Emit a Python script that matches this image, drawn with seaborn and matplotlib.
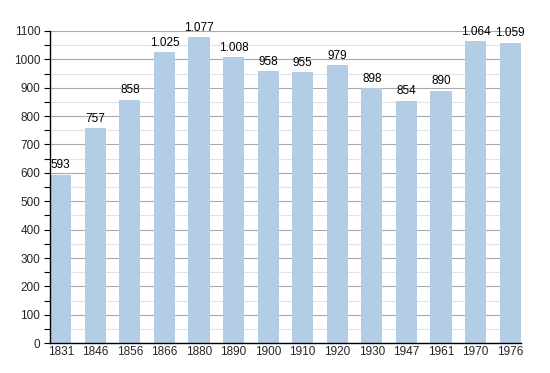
import matplotlib
matplotlib.use('Agg')
import matplotlib.pyplot as plt
import seaborn as sns
import pandas as pd
from matplotlib.ticker import MultipleLocator

years = ['1831', '1846', '1856', '1866', '1880', '1890', '1900', '1910',
         '1920', '1930', '1947', '1961', '1970', '1976']
population = [593, 757, 858, 1025, 1077, 1008, 958, 955, 979, 898, 854, 890, 1064, 1059]

df = pd.DataFrame({'year': years, 'population': population})

sns.set_theme(style='white')
plt.rcParams['font.family'] = ['Liberation Sans', 'DejaVu Sans']

fig = plt.figure(figsize=(5.5, 3.73), dpi=100)
ax = fig.add_axes([0.091, 0.080, 0.856, 0.837])

sns.barplot(data=df, x='year', y='population', color='#b3cde6', saturation=1,
            width=0.61, linewidth=0, edgecolor='none', ax=ax, zorder=3)

ax.set_ylim(0, 1100)
ax.set_xlim(-0.31, len(years) - 1 + 0.31)
ax.yaxis.set_major_locator(MultipleLocator(100))
ax.yaxis.set_minor_locator(MultipleLocator(50))
ax.grid(axis='y', which='major', color='#aaaaaa', linewidth=0.8, zorder=0)
ax.grid(axis='y', which='minor', color='#e2e2e2', linewidth=0.8, zorder=0)
ax.set_axisbelow(True)

for s in ['top', 'right']:
    ax.spines[s].set_visible(False)
for s in ['left', 'bottom']:
    ax.spines[s].set_color('black')
    ax.spines[s].set_linewidth(1.0)
    ax.spines[s].set_zorder(5)

ax.tick_params(axis='y', which='both', left=True, direction='out', length=4,
               width=0.8, color='black', labelsize=8.5, pad=3)
ax.tick_params(axis='x', bottom=False, length=0, labelsize=8.5, pad=2)
ax.set_xlabel('')
ax.set_ylabel('')

for i, v in enumerate(population):
    label = f'{v:,}'.replace(',', '.')
    ax.text(i, v + 12, label, ha='center', va='bottom', fontsize=8.5, color='black')

fig.savefig('out.png', dpi=100)
